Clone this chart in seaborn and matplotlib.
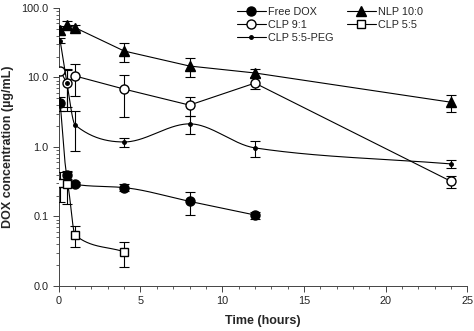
import numpy as np
import seaborn as sns
import matplotlib
matplotlib.use("Agg")
import matplotlib.pyplot as plt
from matplotlib.lines import Line2D
from matplotlib.ticker import FormatStrFormatter, LogLocator, MultipleLocator

# Time points (hours)
t_free = [0.083, 0.5, 1, 4, 8, 12]
t_nlp = [0.083, 0.5, 1, 4, 8, 12, 24]
t_clp91 = [0.083, 0.5, 1, 4, 8, 12, 24]
t_clp55 = [0.083, 0.5, 1, 4]
t_peg = [0.083, 0.5, 1, 4, 8, 12, 24]

# DOX concentration (ug/mL), mean and SD
free_dox = [4.3, 0.40, 0.29, 0.26, 0.165, 0.105]
free_dox_sd = [1.0, 0.05, 0.02, 0.03, 0.06, 0.012]
nlp_100 = [48, 57, 52, 24, 14.6, 11.6, 4.4]
nlp_100_sd = [7, 8, 5, 7.5, 4.5, 1.5, 1.2]
clp_91 = [12.4, 8.3, 10.5, 6.8, 4.0, 8.3, 0.32]
clp_91_sd = [1.0, 4.5, 5.0, 4.1, 1.2, 1.5, 0.06]
clp_55 = [0.30, 0.29, 0.054, 0.031]
clp_55_sd = [0.14, 0.14, 0.018, 0.012]
clp_peg = [34, 8.3, 2.07, 1.18, 2.15, 0.97, 0.57]
clp_peg_sd = [3, 5, 1.2, 0.18, 0.6, 0.26, 0.07]


def pchip(x, y, xs):
    # monotone cubic (Fritsch-Carlson) for a smooth curve through the points
    x = np.asarray(x, float)
    y = np.asarray(y, float)
    h = np.diff(x)
    d = np.diff(y) / h
    m = np.zeros_like(y)
    for k in range(1, len(x) - 1):
        if d[k - 1] * d[k] > 0:
            w1 = 2 * h[k] + h[k - 1]
            w2 = h[k] + 2 * h[k - 1]
            m[k] = (w1 + w2) / (w1 / d[k - 1] + w2 / d[k])
    m[0] = d[0]
    m[-1] = d[-1]
    idx = np.clip(np.searchsorted(x, xs) - 1, 0, len(h) - 1)
    hk = h[idx]
    s = (xs - x[idx]) / hk
    h00 = 2 * s**3 - 3 * s**2 + 1
    h10 = s**3 - 2 * s**2 + s
    h01 = -2 * s**3 + 3 * s**2
    h11 = s**3 - s**2
    return h00 * y[idx] + h10 * hk * m[idx] + h01 * y[idx + 1] + h11 * hk * m[idx + 1]


sns.set_style("ticks")
plt.rcParams['font.family'] = ['Liberation Sans', 'DejaVu Sans']

fig = plt.figure(figsize=(4.74, 3.31), dpi=100)
ax = fig.add_axes([0.124, 0.136, 0.862, 0.84])

series = [
    ("Free DOX", t_free, free_dox, free_dox_sd, dict(marker='o', mfc='black', ms=6.5), True),
    ("NLP 10:0", t_nlp, nlp_100, nlp_100_sd, dict(marker='^', mfc='black', ms=7), False),
    ("CLP 9:1", t_clp91, clp_91, clp_91_sd, dict(marker='o', mfc='white', ms=6.5), False),
    ("CLP 5:5", t_clp55, clp_55, clp_55_sd, dict(marker='s', mfc='white', ms=6), True),
    ("CLP 5:5-PEG", t_peg, clp_peg, clp_peg_sd, dict(marker='o', mfc='black', ms=2.5), True),
]

handles = {}
for name, t, y, sd, mk, smooth in series:
    t = np.array(t)
    y = np.array(y)
    if smooth:
        xs = np.linspace(t[0], t[-1], 400)
        ys = 10 ** pchip(t, np.log10(y), xs)
    else:
        xs, ys = t, y
    sns.lineplot(x=xs, y=ys, ax=ax, color='black', lw=0.8, sort=False, zorder=2)
    ax.errorbar(t, y, yerr=sd, fmt='none', ecolor='black', elinewidth=0.8,
                capsize=3.5, capthick=0.8, zorder=3)
    ax.plot(t, y, linestyle='none', mec='black', mew=1.0, zorder=4, **mk)
    handles[name] = Line2D([], [], color='black', lw=0.8, mec='black', mew=1.0, **mk)

ax.set_yscale('log')
ax.set_ylim(0.01, 100)
ax.set_xlim(0, 25)
ax.yaxis.set_major_locator(LogLocator(base=10, numticks=10))
ax.yaxis.set_minor_locator(LogLocator(base=10, subs=np.arange(2, 10), numticks=10))
ax.yaxis.set_major_formatter(FormatStrFormatter('%.1f'))
ax.yaxis.set_minor_formatter(plt.NullFormatter())
ax.xaxis.set_major_locator(MultipleLocator(5))
ax.xaxis.set_minor_locator(MultipleLocator(1))

ax.tick_params(axis='both', which='major', labelsize=7.8, length=4, width=0.7, color='#444444',
               labelcolor='#222222')
ax.tick_params(axis='both', which='minor', length=2.5, width=0.6, color='#444444')
for side in ['left', 'bottom']:
    ax.spines[side].set_linewidth(0.7)
    ax.spines[side].set_color('#444444')
sns.despine(ax=ax)

ax.set_xlabel('Time (hours)', fontsize=9, fontweight='bold', labelpad=6)
ax.set_ylabel('DOX concentration (µg/mL)', fontsize=9, fontweight='bold', labelpad=5)

order = ["Free DOX", "CLP 9:1", "CLP 5:5-PEG", "NLP 10:0", "CLP 5:5"]
fig.legend([handles[n] for n in order], order, ncol=2, frameon=False,
           loc='upper left', bbox_to_anchor=(0.487, 1.0), fontsize=7.8,
           handlelength=2.6, handletextpad=0.2, columnspacing=1.3,
           labelspacing=0.3, borderaxespad=0.2)

fig.savefig('out.png', dpi=100)
